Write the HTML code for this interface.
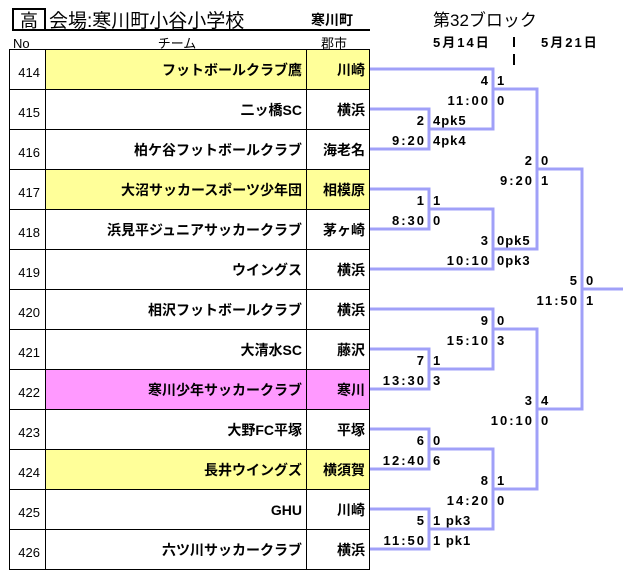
<!DOCTYPE html>
<html><head><meta charset="utf-8">
<style>
html,body{margin:0;padding:0;background:#fff;}
svg{display:block;}
text{font-family:"Liberation Sans","Noto Sans CJK JP",sans-serif;fill:#000;}
.t{font-size:14px;font-weight:bold;}
.n{font-size:13px;}
.b{font-size:13px;font-weight:bold;letter-spacing:1px;}
.tm{font-size:13px;font-weight:bold;letter-spacing:2px;}
</style></head>
<body>
<svg width="633" height="573" viewBox="0 0 633 573" xmlns="http://www.w3.org/2000/svg">
<rect x="0" y="0" width="633" height="573" fill="#fff"/>
<!-- header -->
<rect x="13" y="9" width="32" height="21" fill="none" stroke="#000" stroke-width="2"/>
<line x1="12" y1="30" x2="370" y2="30" stroke="#000" stroke-width="2"/>
<text x="29" y="27" font-size="18" text-anchor="middle">高</text>
<text x="49" y="27" font-size="19">会場:寒川町小谷小学校</text>
<text x="311" y="25" class="t">寒川町</text>
<text x="13" y="48" font-size="13">No</text>
<text x="177" y="48" font-size="13" text-anchor="middle">チーム</text>
<text x="334" y="48" font-size="13" text-anchor="middle">郡市</text>
<text x="433" y="26" font-size="17">第32ブロック</text>
<text x="433" y="47" font-size="13" font-weight="bold" letter-spacing="2">5月14日</text>
<rect x="513" y="37" width="2" height="10" fill="#000"/>
<rect x="513" y="54" width="2" height="11" fill="#000"/>
<text x="541" y="47" font-size="13" font-weight="bold" letter-spacing="2">5月21日</text>

<!-- row backgrounds -->
<rect x="46" y="50" width="323" height="39" fill="#ffff99"/>
<rect x="46" y="170" width="323" height="39" fill="#ffff99"/>
<rect x="46" y="450" width="323" height="39" fill="#ffff99"/>
<rect x="46" y="370" width="323" height="39" fill="#ff99ff"/>

<!-- grid -->
<g stroke="#000" stroke-width="1" shape-rendering="crispEdges">
<line x1="9.5" y1="49" x2="9.5" y2="570"/>
<line x1="45.5" y1="49" x2="45.5" y2="570"/>
<line x1="306.5" y1="49" x2="306.5" y2="570"/>
<line x1="369.5" y1="49" x2="369.5" y2="570"/>
<line x1="9" y1="49.5" x2="370" y2="49.5"/>
<line x1="9" y1="89.5" x2="370" y2="89.5"/>
<line x1="9" y1="129.5" x2="370" y2="129.5"/>
<line x1="9" y1="169.5" x2="370" y2="169.5"/>
<line x1="9" y1="209.5" x2="370" y2="209.5"/>
<line x1="9" y1="249.5" x2="370" y2="249.5"/>
<line x1="9" y1="289.5" x2="370" y2="289.5"/>
<line x1="9" y1="329.5" x2="370" y2="329.5"/>
<line x1="9" y1="369.5" x2="370" y2="369.5"/>
<line x1="9" y1="409.5" x2="370" y2="409.5"/>
<line x1="9" y1="449.5" x2="370" y2="449.5"/>
<line x1="9" y1="489.5" x2="370" y2="489.5"/>
<line x1="9" y1="529.5" x2="370" y2="529.5"/>
<line x1="9" y1="569.5" x2="370" y2="569.5"/>
</g>

<!-- table text -->
<g class="n" text-anchor="end">
<text x="40" y="77">414</text>
<text x="40" y="117">415</text>
<text x="40" y="157">416</text>
<text x="40" y="197">417</text>
<text x="40" y="237">418</text>
<text x="40" y="277">419</text>
<text x="40" y="317">420</text>
<text x="40" y="357">421</text>
<text x="40" y="397">422</text>
<text x="40" y="437">423</text>
<text x="40" y="477">424</text>
<text x="40" y="517">425</text>
<text x="40" y="557">426</text>
</g>
<g class="t" text-anchor="end">
<text x="302" y="75">フットボールクラブ鷹</text>
<text x="302" y="115">二ッ橋SC</text>
<text x="302" y="155">柏ケ谷フットボールクラブ</text>
<text x="302" y="195">大沼サッカースポーツ少年団</text>
<text x="302" y="235">浜見平ジュニアサッカークラブ</text>
<text x="302" y="275">ウイングス</text>
<text x="302" y="315">相沢フットボールクラブ</text>
<text x="302" y="355">大清水SC</text>
<text x="302" y="395">寒川少年サッカークラブ</text>
<text x="302" y="435">大野FC平塚</text>
<text x="302" y="475">長井ウイングズ</text>
<text x="302" y="515">GHU</text>
<text x="302" y="555">六ツ川サッカークラブ</text>
<text x="365" y="75">川崎</text>
<text x="365" y="115">横浜</text>
<text x="365" y="155">海老名</text>
<text x="365" y="195">相模原</text>
<text x="365" y="235">茅ヶ崎</text>
<text x="365" y="275">横浜</text>
<text x="365" y="315">横浜</text>
<text x="365" y="355">藤沢</text>
<text x="365" y="395">寒川</text>
<text x="365" y="435">平塚</text>
<text x="365" y="475">横須賀</text>
<text x="365" y="515">川崎</text>
<text x="365" y="555">横浜</text>
</g>

<!-- bracket lines -->
<g fill="none" stroke="#a0a0f8" stroke-width="3" stroke-linejoin="miter">
<path d="M370,69 H493 V129 H429"/>
<path d="M370,109 H429 V149 H370"/>
<path d="M493,89 H537 V249 H493"/>
<path d="M537,169 H582 V409 H537"/>
<path d="M582,289 H623"/>
<path d="M370,189 H429 V229 H370"/>
<path d="M429,209 H493 V269 H370"/>
<path d="M370,309 H493 V369 H429"/>
<path d="M370,349 H429 V389 H370"/>
<path d="M493,329 H537 V489 H493"/>
<path d="M370,429 H429 V469 H370"/>
<path d="M429,449 H493 V529 H429"/>
<path d="M370,509 H429 V549 H370"/>
</g>

<!-- bracket labels -->
<g class="b" text-anchor="end">
<text x="489" y="85">4</text>
<text x="425" y="125">2</text>
<text x="533" y="165">2</text>
<text x="425" y="205">1</text>
<text x="489" y="245">3</text>
<text x="578" y="285">5</text>
<text x="489" y="325">9</text>
<text x="425" y="365">7</text>
<text x="533" y="405">3</text>
<text x="425" y="445">6</text>
<text x="489" y="485">8</text>
<text x="425" y="525">5</text>
</g>
<g class="tm" text-anchor="end">
<text x="490" y="105">11:00</text>
<text x="426" y="145">9:20</text>
<text x="534" y="185">9:20</text>
<text x="426" y="225">8:30</text>
<text x="490" y="265">10:10</text>
<text x="579" y="305">11:50</text>
<text x="490" y="345">15:10</text>
<text x="426" y="385">13:30</text>
<text x="534" y="425">10:10</text>
<text x="426" y="465">12:40</text>
<text x="490" y="505">14:20</text>
<text x="426" y="545">11:50</text>
</g>
<g class="b">
<text x="497" y="85">1</text>
<text x="497" y="105">0</text>
<text x="433" y="125">4pk5</text>
<text x="433" y="145">4pk4</text>
<text x="541" y="165">0</text>
<text x="541" y="185">1</text>
<text x="433" y="205">1</text>
<text x="433" y="225">0</text>
<text x="497" y="245">0pk5</text>
<text x="497" y="265">0pk3</text>
<text x="586" y="285">0</text>
<text x="586" y="305">1</text>
<text x="497" y="325">0</text>
<text x="497" y="345">3</text>
<text x="433" y="365">1</text>
<text x="433" y="385">3</text>
<text x="541" y="405">4</text>
<text x="541" y="425">0</text>
<text x="433" y="445">0</text>
<text x="433" y="465">6</text>
<text x="497" y="485">1</text>
<text x="497" y="505">0</text>
<text x="433" y="525">1 pk3</text>
<text x="433" y="545">1 pk1</text>
</g>
</svg>
</body></html>
